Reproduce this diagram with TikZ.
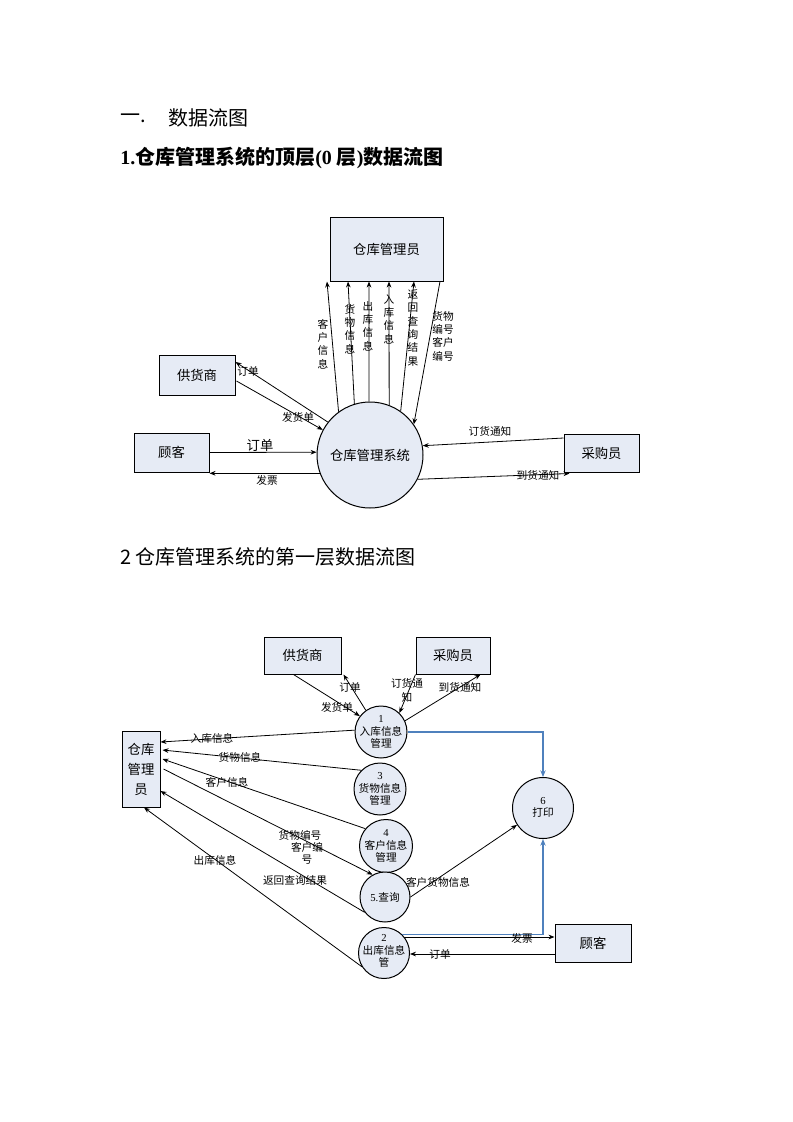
\documentclass[tikz,border=0pt]{standalone}
\usepackage{fontspec}
\usetikzlibrary{arrows.meta,calc}
\newfontfamily\cjk{Noto Sans CJK SC}
\newfontfamily\lat{Liberation Serif}
\definecolor{boxfill}{HTML}{E6EBF5}
\definecolor{flowblue}{HTML}{4F81BD}
\begin{document}
\begin{tikzpicture}[x=0.75pt,y=-0.75pt,
  ent/.style={draw,fill=boxfill,line width=0.75pt,inner sep=0pt,align=center,
    font=\cjk\fontsize{10}{15}\selectfont},
  proc/.style={draw,circle,fill=boxfill,line width=0.75pt,inner sep=0pt},
  ptxt/.style={align=center,inner sep=0pt,font=\cjk\fontsize{8}{9.5}\selectfont},
  flow/.style={line width=0.6pt,-{Stealth[length=4.5pt,width=3.5pt]}},
  bflow/.style={line width=0.8pt,draw=flowblue,-{Stealth[length=5pt,width=4pt]}},
  lbl/.style={inner sep=0pt,font=\cjk\fontsize{8}{9.5}\selectfont},
  vlbl/.style={inner sep=0pt,align=center,font=\cjk\fontsize{8}{10}\selectfont},
  head/.style={anchor=west,inner sep=0pt,font=\cjk\fontsize{15}{18}\selectfont},
]
\useasboundingbox (0,0) rectangle (793,1122);

% ---------- headings ----------
\node[head] (h1a) at (120,118) {一.};
\node[head] (h1b) at (168,118) {数据流图};
\node[head,font=\cjk\bfseries\fontsize{15}{18}\selectfont] (h2) at (120,158)
  {{\lat\bfseries 1.}仓库管理系统的顶层{\lat\bfseries (0 }层{\lat\bfseries )}数据流图};
\node[head] (h3) at (120,557) {2 仓库管理系统的第一层数据流图};

% ---------- diagram 1 ----------
\node[ent,minimum width=84.75pt,minimum height=48pt] (mgr) at (386.5,249) {仓库管理员};
\node[ent,minimum width=57pt,minimum height=30pt] (sup1) at (197,375) {供货商};
\node[ent,minimum width=56.25pt,minimum height=29.25pt] (cus1) at (171.5,452.5) {顾客};
\node[ent,minimum width=56.25pt,minimum height=28.5pt] (buy1) at (601.5,453) {采购员};
\node[proc,minimum size=79.5pt,font=\cjk\fontsize{10}{12}\selectfont] (sys) at (370,455) {仓库管理系统};

\draw[flow] (sys.126) -- (327,0 |- mgr.south);
\draw[flow] (sys.107) -- (348,0 |- mgr.south);
\draw[flow] (sys.91)  -- (369,0 |- mgr.south);
\draw[flow] (sys.69)  -- (389,0 |- mgr.south);
\draw[flow] (sys.55)  -- (414,0 |- mgr.south);
\draw[flow] (440,0 |- mgr.south) -- (sys.35);

\node[vlbl] (l1a) at (323,344) {客\\户\\信\\息};
\node[vlbl] (l1b) at (350,329) {货\\物\\信\\息};
\node[vlbl] (l1c) at (368,326) {出\\库\\信\\息};
\node[vlbl] (l1d) at (389,319) {入\\库\\信\\息};
\node[vlbl] (l1e) at (413,328) {返\\回\\查\\询\\结\\果};
\node[vlbl] (l1f) at (443,336) {货物\\编号\\客户\\编号};

\draw[flow] (sys.142) -- ($(sup1.east)+(0,-13)$);
\draw[flow] ($(sup1.east)+(1,6)$) -- (sys.152);
\draw[flow] (cus1.east) -- (sys.177);
\draw[flow] (sys.200) -- (cus1.east |- sys.200);
\node[lbl] (l1g) at (248,371) {订单};
\node[lbl] (l1h) at (298,417) {发货单};
\node[lbl,font=\cjk\fontsize{10}{12}\selectfont] (l1i) at (260,445) {订单};
\node[lbl] (l1j) at (267,480) {发票};

\draw[flow] ($(buy1.west)+(0,-15)$) -- (sys.10);
\draw[flow] (sys.-27.5) -- ($(buy1.south west)+(6,1)$);
\node[lbl] (l1k) at (490,431) {订货通知};
\node[lbl] (l1l) at (538,475) {到货通知};

% ---------- diagram 2 ----------
\node[ent,minimum width=57.75pt,minimum height=27.75pt] (sup2) at (302.5,655.5) {供货商};
\node[ent,minimum width=55.5pt,minimum height=27.75pt] (buy2) at (453,655.5) {采购员};
\node[ent,minimum width=28.5pt,minimum height=57pt] (mgr2) at (141,769) {仓库\\管理\\员};
\node[ent,minimum width=57pt,minimum height=28.5pt] (cus2) at (593,943) {顾客};

\node[proc,minimum size=39pt] (p1) at (381,732) {};
\node[ptxt] (p1t) at (p1) {{\lat 1}\\入库信息\\管理};
\node[proc,minimum size=39pt] (p3) at (380,789) {};
\node[ptxt] (p3t) at (p3) {{\lat 3}\\货物信息\\管理};
\node[proc,minimum size=39.75pt] (p4) at (386,846) {};
\node[ptxt] (p4t) at (p4) {{\lat 4}\\客户信息\\管理};
\node[proc,minimum size=37.5pt] (p5) at (385,897) {};
\node[ptxt] (p5t) at (p5) {{\lat 5.}查询};
\node[proc,minimum size=38.25pt] (p2) at (384,953) {};
\node[ptxt] (p2t) at (384,951) {{\lat 2}\\出库信息\\管};
\node[proc,minimum size=45.75pt] (p6) at (543,808) {};
\node[ptxt] (p6t) at (543,807.5) {{\lat 6}\\打印};

% supplier / buyer flows
\draw[flow] (p1.125) -- ($(sup2.south east)+(2,0)$);
\draw[flow] ($(sup2.south)+(-9,0)$) -- (p1.143);
\draw[flow] (buy2.south west) -- (p1.46);
\draw[flow] (p1.25) -- ($(buy2.south east)+(-10,0)$);
\node[lbl] (l2a) at (350,687) {订单};
\node[lbl] (l2b) at (337,707) {发货单};
\node[lbl,align=center,font=\cjk\fontsize{8}{10.5}\selectfont] (l2c) at (407,690) {订货通\\知};
\node[lbl] (l2d) at (460,687) {到货通知};

% flows to warehouse keeper
\draw[flow] (p1.176) -- ($(mgr2.east)+(0,-27)$);
\draw[flow] (p3.135) -- ($(mgr2.east)+(2,-19)$);
\draw[flow,{Stealth[length=4.5pt,width=3.5pt]}-] ($(mgr2.east)+(2,-10)$) -- (p4.140);
\draw[flow] ($(mgr2.east)+(3,0)$) -- (p5.119);
\draw[flow] (p5.217) -- ($(mgr2.east)+(0,22)$);
\draw[flow] (p2.212) -- ($(mgr2.south)+(3,0)$);
\node[lbl] (l2e) at (212,738) {入库信息};
\node[lbl] (l2f) at (240,757) {货物信息};
\node[lbl] (l2g) at (227,782) {客户信息};
\node[lbl] (l2h) at (300,835) {货物编号};
\node[lbl] (l2i) at (307,847) {客户编};
\node[lbl] (l2j) at (307,860) {号};
\node[lbl] (l2k) at (295,880) {返回查询结果};
\node[lbl] (l2l) at (215,860) {出库信息};

% print and customer
\draw[flow] (p5.0) -- (p6.213);
\node[lbl] (l2m) at (438,882) {客户货物信息};
\draw[bflow] (p1.east) -- (p1.east -| p6.north) -- (p6.north);
\draw[bflow] (p2.45) -- (p2.45 -| p6.south) -- (p6.south);
\draw[flow] (p2.38) -- (cus2.west |- p2.38);
\draw[flow] ($(cus2.west)+(0,11)$) -- (p2.east |- {$(cus2.west)+(0,11)$});
\node[lbl] (l2n) at (522,938) {发票};
\node[lbl] (l2o) at (440,954) {订单};
\end{tikzpicture}
\end{document}
